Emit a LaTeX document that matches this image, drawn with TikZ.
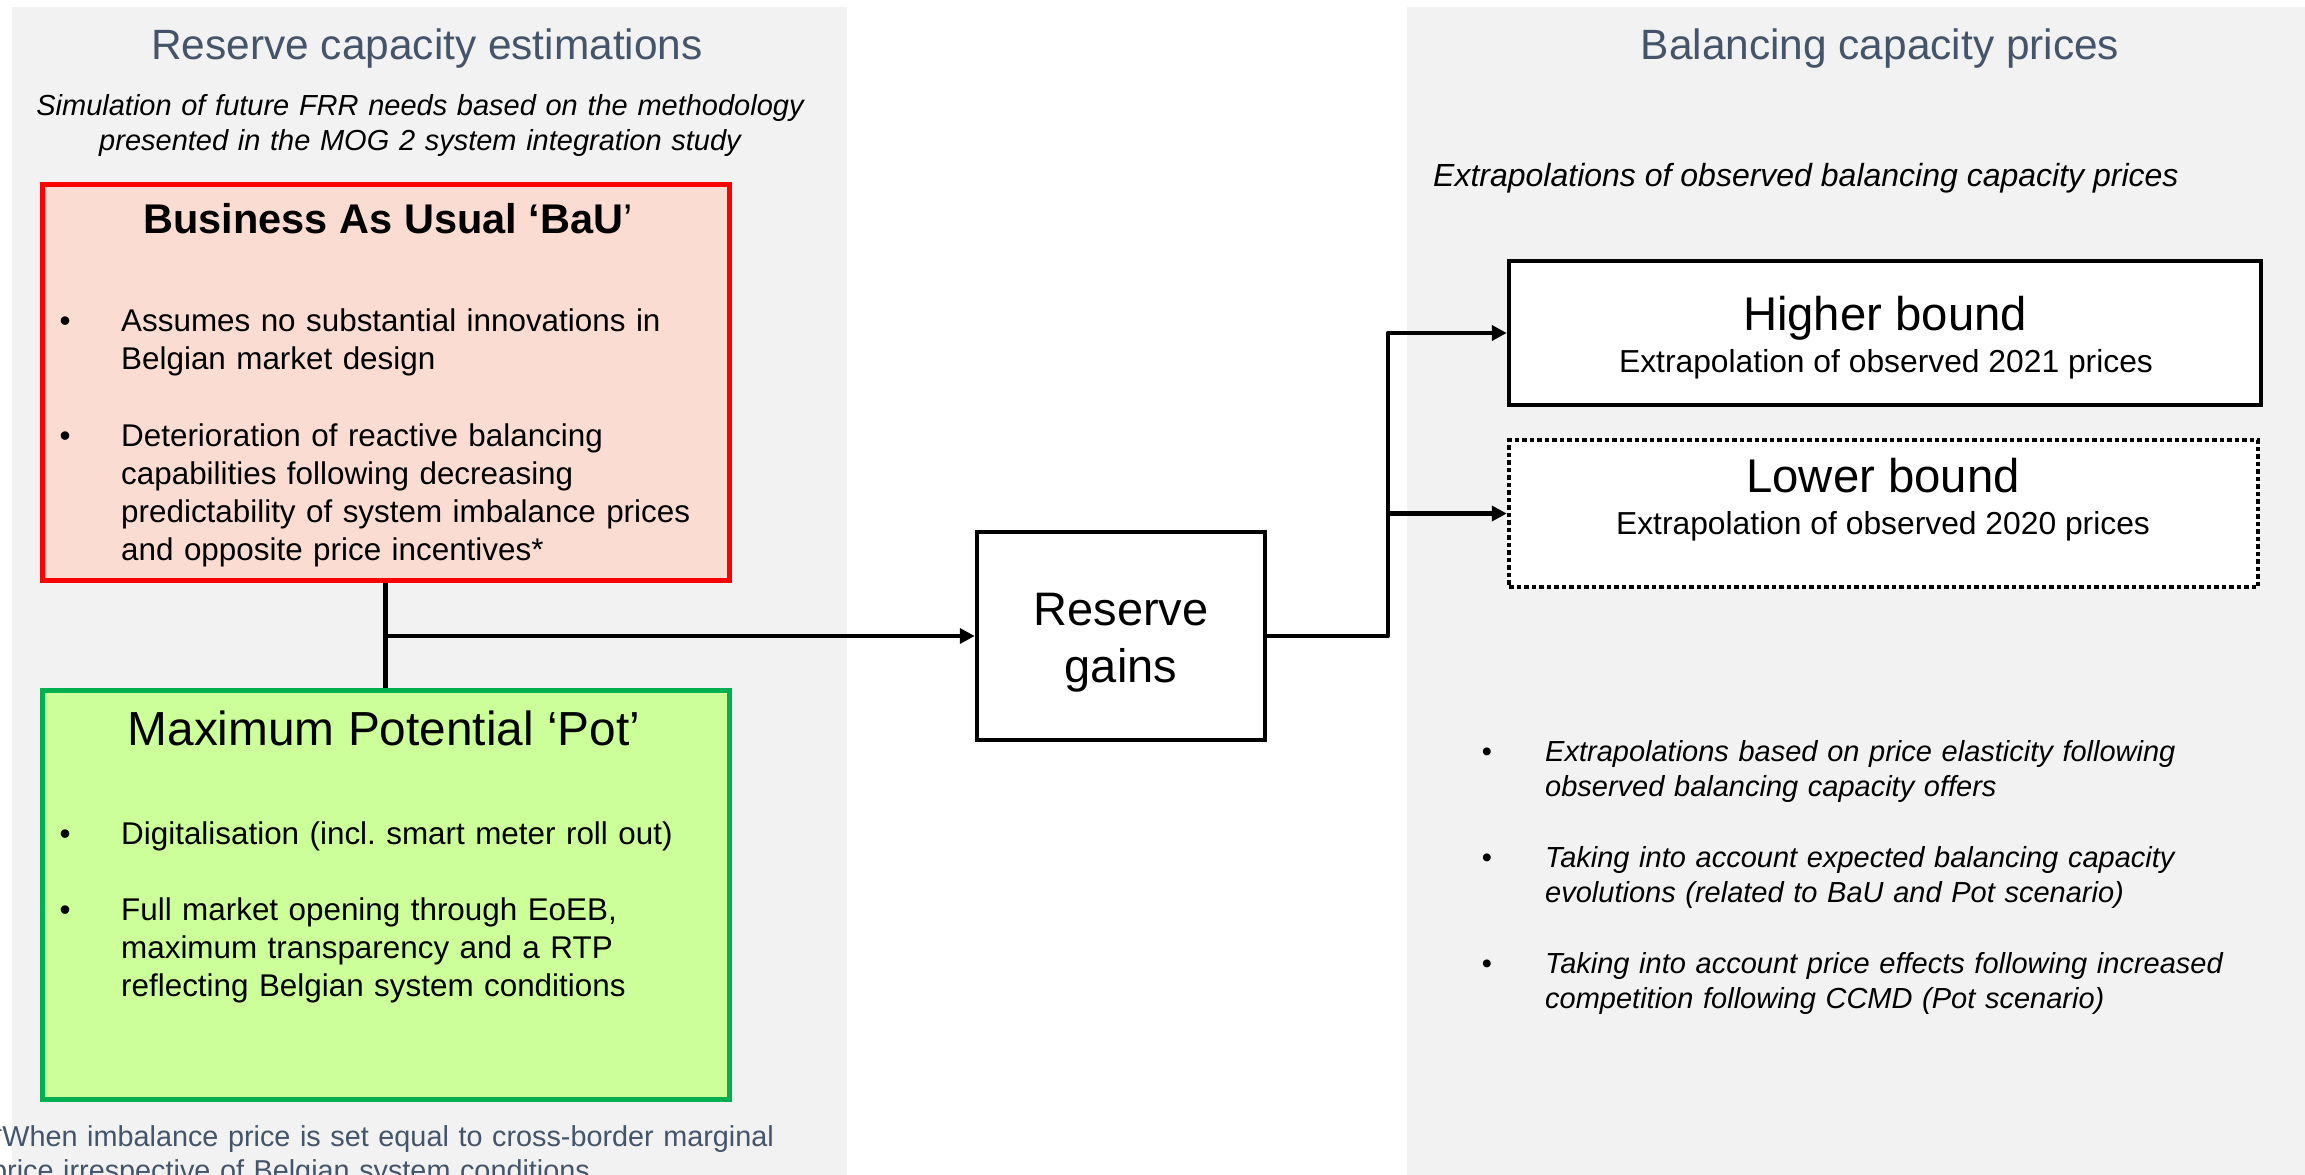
\documentclass[tikz,border=0pt]{standalone}
\usepackage{fontspec}
\setmainfont{Liberation Sans}
\usetikzlibrary{arrows.meta}
\frenchspacing

\definecolor{panelgray}{RGB}{242,242,242}
\definecolor{headcol}{RGB}{68,84,106}
\definecolor{baufill}{RGB}{250,220,211}
\definecolor{baured}{RGB}{255,0,0}
\definecolor{potfill}{RGB}{204,255,153}
\definecolor{potgreen}{RGB}{0,176,80}

\begin{document}
\begin{tikzpicture}[x=1pt,y=-1pt,
  heading/.style={font=\fontsize{42.4}{50}\selectfont, text=headcol, anchor=base, inner sep=0pt},
  boxtitle/.style={anchor=base, inner sep=0pt},
  bulletdot/.style={font=\fontsize{31.4}{38}\selectfont, anchor=base, inner sep=0pt},
  bullettext/.style={font=\fontsize{31.4}{38}\selectfont, anchor=base west, inner sep=0pt, text width=700pt, align=left},
  rbulletdot/.style={font=\fontsize{29}{35}\selectfont, anchor=base, inner sep=0pt},
  rbullettext/.style={font=\fontsize{29}{35}\selectfont\itshape, anchor=base west, inner sep=0pt, text width=740pt, align=left},
  plainbox/.style={draw=black, line width=4.5pt, fill=white, rectangle, inner sep=0pt},
  conn/.style={draw=black, line width=4.5pt, line join=round},
  arrowline/.style={conn, -{Triangle[length=15pt,width=15pt]}}
]
\useasboundingbox (0,0) rectangle (2305,1175);

% background panels
\fill[panelgray] (12,7) rectangle (847,1185);
\fill[panelgray] (1407,7) rectangle (2310,1185);

% left column: reserve capacity estimations
\node[heading] (lhead) at (427,59) {Reserve capacity estimations};
\node[anchor=base, inner sep=0pt, text width=820pt, align=center,
      font=\fontsize{29}{35.5}\selectfont\itshape] (lsub) at (420,115)
  {Simulation of future FRR needs based on the methodology\\presented in the MOG 2 system integration study};

% Business As Usual scenario
\node[draw=baured, fill=baufill, line width=5pt, rectangle, inner sep=0pt,
      minimum width=687pt, minimum height=396pt] (bau) at (385.5,382) {};
\node[boxtitle, font=\fontsize{41.5}{49}\selectfont] (bautitle) at (388,233)
  {\textbf{Business As Usual ‘BaU}’};
\node[bulletdot] (baub1) at (65,331) {•};
\node[bullettext] (baut1) at (121,331)
  {Assumes no substantial innovations in\\Belgian market design};
\node[bulletdot] (baub2) at (65,446) {•};
\node[bullettext] (baut2) at (121,446)
  {Deterioration of reactive balancing\\capabilities following decreasing\\predictability of system imbalance prices\\and opposite price incentives*};

% Maximum Potential scenario
\node[draw=potgreen, fill=potfill, line width=5pt, rectangle, inner sep=0pt,
      minimum width=687pt, minimum height=409pt] (pot) at (385.5,894.5) {};
\node[boxtitle, font=\fontsize{47.8}{56}\selectfont] (pottitle) at (384,745)
  {Maximum Potential ‘Pot’};
\node[bulletdot] (potb1) at (65,844) {•};
\node[bullettext] (pott1) at (121,844)
  {Digitalisation (incl.\ smart meter roll out)};
\node[bulletdot] (potb2) at (65,920) {•};
\node[bullettext] (pott2) at (121,920)
  {Full market opening through EoEB,\\maximum transparency and a RTP\\reflecting Belgian system conditions};

% footnote
\node[anchor=base west, inner sep=0pt, text width=900pt, align=left, text=headcol,
      font=\fontsize{28.8}{34}\selectfont] (fnote) at (-9,1146)
  {*When imbalance price is set equal to cross-border marginal\\price irrespective of Belgian system conditions};

% centre: reserve gains
\node[plainbox, minimum width=288pt, minimum height=208pt] (gains) at (1121,636) {};
\node[anchor=base, inner sep=0pt, text width=280pt, align=center,
      font=\fontsize{47}{57}\selectfont] (gainstext) at (1121,625) {Reserve\\gains};

% right column: balancing capacity prices
\node[heading] (rhead) at (1880,59) {Balancing capacity prices};
\node[anchor=base west, inner sep=0pt, font=\fontsize{32}{38}\selectfont\itshape] (rsub)
  at (1433,186) {Extrapolations of observed balancing capacity prices};

\node[plainbox, minimum width=752pt, minimum height=144pt] (high) at (1885,333) {};
\node[boxtitle, font=\fontsize{47.3}{56}\selectfont] (hightitle) at (1885,330) {Higher bound};
\node[boxtitle, font=\fontsize{31.8}{38}\selectfont] (hightext) at (1886,372)
  {Extrapolation of observed 2021 prices};

\node[plainbox, dash pattern=on 4.5pt off 3pt, minimum width=749pt, minimum height=147pt]
  (low) at (1883.5,513.5) {};
\node[boxtitle, font=\fontsize{47.3}{56}\selectfont] (lowtitle) at (1883,492) {Lower bound};
\node[boxtitle, font=\fontsize{31.8}{38}\selectfont] (lowtext) at (1883,534)
  {Extrapolation of observed 2020 prices};

\node[rbulletdot] (rb1) at (1487,761) {•};
\node[rbullettext] (rt1) at (1545,761)
  {Extrapolations based on price elasticity following\\observed balancing capacity offers};
\node[rbulletdot] (rb2) at (1487,867) {•};
\node[rbullettext] (rt2) at (1545,867)
  {Taking into account expected balancing capacity\\evolutions (related to BaU and Pot scenario)};
\node[rbulletdot] (rb3) at (1487,973) {•};
\node[rbullettext] (rt3) at (1545,973)
  {Taking into account price effects following increased\\competition following CCMD (Pot scenario)};

% connectors
\draw[conn] (bau.south) -- (pot.north);
\draw[arrowline] (bau.south |- gains.west) -- (gains.west);
\coordinate (split) at (1388,636);
\draw[arrowline] (gains.east) -- (split) |- (high.west);
\draw[arrowline] (split |- low.west) -- (low.west);
\end{tikzpicture}
\end{document}
